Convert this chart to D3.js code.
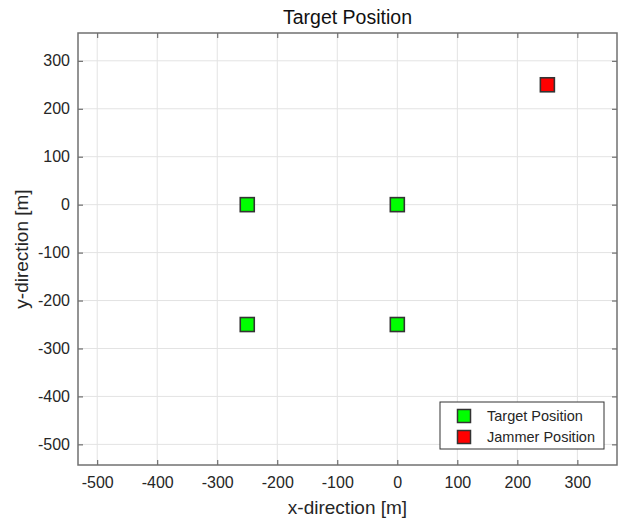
<!DOCTYPE html>
<html>
<head>
<meta charset="utf-8">
<script src="https://cdn.jsdelivr.net/npm/d3@7"></script>
<style>
  body { margin: 0; background: #fff; }
  text { font-family: "Liberation Sans", Arial, sans-serif; }
</style>
</head>
<body>
<script>
// target and jammer positions [m]
var targetX = [-250, 0, -250, 0];
var targetY = [0, 0, -250, -250];
var jammerX = [250];
var jammerY = [250];
var xTicks = [-500, -400, -300, -200, -100, 0, 100, 200, 300];
var yTicks = [-500, -400, -300, -200, -100, 0, 100, 200, 300];

var W = 619, H = 522;
var margin = {top: 33, right: 2, bottom: 57, left: 78};
var width = W - margin.left - margin.right,
    height = H - margin.top - margin.bottom;

var svg = d3.select("body").append("svg")
    .attr("width", W)
    .attr("height", H);

var g = svg.append("g")
    .attr("transform", "translate(" + margin.left + "," + margin.top + ")");

var x = d3.scaleLinear().domain([-532, 366]).range([0, width]);
var y = d3.scaleLinear().domain([-543, 358]).range([height, 0]);

// plain hyphen for negatives, like matlab
var fmt = function(d) { return String(d); };

// grid
g.append("g").selectAll("line").data(xTicks).enter().append("line")
    .attr("x1", function(d) { return x(d); }).attr("x2", function(d) { return x(d); })
    .attr("y1", 0).attr("y2", height)
    .attr("stroke", "#e3e3e3").attr("stroke-width", 1);
g.append("g").selectAll("line").data(yTicks).enter().append("line")
    .attr("y1", function(d) { return y(d); }).attr("y2", function(d) { return y(d); })
    .attr("x1", 0).attr("x2", width)
    .attr("stroke", "#e3e3e3").attr("stroke-width", 1);

function styleAxis(sel) {
    sel.select(".domain").remove();
    sel.selectAll(".tick line").attr("stroke", "#555");
    sel.selectAll(".tick text").attr("fill", "#262626").style("font-size", "16px");
}

g.append("g").attr("transform", "translate(0," + height + ")")
    .call(d3.axisBottom(x).tickValues(xTicks).tickSize(-5).tickPadding(12).tickFormat(fmt))
    .call(styleAxis);
g.append("g")
    .call(d3.axisTop(x).tickValues(xTicks).tickSize(-5).tickFormat(""))
    .call(styleAxis);
g.append("g")
    .call(d3.axisLeft(y).tickValues(yTicks).tickSize(-5).tickPadding(8).tickFormat(fmt))
    .call(styleAxis);
g.append("g").attr("transform", "translate(" + width + ",0)")
    .call(d3.axisRight(y).tickValues(yTicks).tickSize(-5).tickFormat(""))
    .call(styleAxis);

// box
g.append("rect")
    .attr("width", width).attr("height", height)
    .attr("fill", "none").attr("stroke", "#707070").attr("stroke-width", 1.5);

// markers
var s = 14;
var targets = targetX.map(function(d, i) { return {x: d, y: targetY[i]}; });
var jammers = jammerX.map(function(d, i) { return {x: d, y: jammerY[i]}; });

g.selectAll(".target").data(targets).enter().append("rect")
    .attr("class", "target")
    .attr("x", function(d) { return x(d.x) - s / 2; })
    .attr("y", function(d) { return y(d.y) - s / 2; })
    .attr("width", s).attr("height", s)
    .attr("fill", "#00ff00").attr("stroke", "#333").attr("stroke-width", 1.6);

g.selectAll(".jammer").data(jammers).enter().append("rect")
    .attr("class", "jammer")
    .attr("x", function(d) { return x(d.x) - s / 2; })
    .attr("y", function(d) { return y(d.y) - s / 2; })
    .attr("width", s).attr("height", s)
    .attr("fill", "#ff0000").attr("stroke", "#333").attr("stroke-width", 1.6);

// title and labels
svg.append("text")
    .attr("x", margin.left + width / 2).attr("y", 24)
    .attr("text-anchor", "middle").style("font-size", "19.5px").attr("fill", "#111")
    .text("Target Position");
svg.append("text")
    .attr("x", margin.left + width / 2).attr("y", 514)
    .attr("text-anchor", "middle").style("font-size", "19px").attr("fill", "#262626")
    .text("x-direction [m]");
svg.append("text")
    .attr("transform", "translate(28," + (margin.top + height / 2) + ") rotate(-90)")
    .attr("text-anchor", "middle").style("font-size", "19px").attr("fill", "#262626")
    .text("y-direction [m]");

// legend
var leg = svg.append("g").attr("transform", "translate(440,402)");
leg.append("rect").attr("width", 164).attr("height", 47)
    .attr("fill", "#fff").attr("stroke", "#333").attr("stroke-width", 1);
var items = [{label: "Target Position", color: "#00ff00"}, {label: "Jammer Position", color: "#ff0000"}];
items.forEach(function(it, i) {
    var cy = 14 + i * 21;
    leg.append("rect").attr("x", 24 - 6.5).attr("y", cy - 6.5)
        .attr("width", 13).attr("height", 13)
        .attr("fill", it.color).attr("stroke", "#333").attr("stroke-width", 1.5);
    leg.append("text").attr("x", 47).attr("y", cy + 5)
        .style("font-size", "14.5px").attr("fill", "#262626").text(it.label);
});
</script>
</body>
</html>
